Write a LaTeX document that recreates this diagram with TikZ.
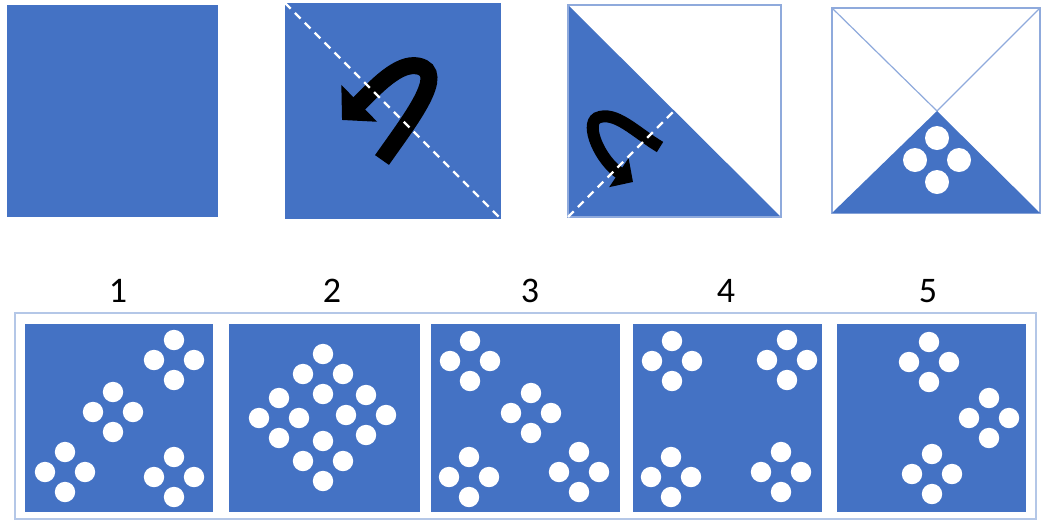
\documentclass[tikz,border=0pt]{standalone}
\usepackage{fontspec}
\setmainfont{Carlito}
\usepackage{tikz}
\usetikzlibrary{arrows.meta,calc}
\usepackage{xcolor}
\definecolor{boxblue}{HTML}{4472C4}
\definecolor{edgeblue}{HTML}{8FAADC}
\definecolor{framegray}{HTML}{B4C7E7}

% four white holes round a centre: [radius]{x}{y}{spread}
\newcommand\fourdots[4][5.1pt]{%
  \foreach \dx/\dy in {0/-1,-1/0,1/0,0/1}
    \fill[white] ({#2+#4*\dx},{#3+#4*\dy}) circle[radius=#1];}

\begin{document}
\begin{tikzpicture}[
  x=0.5pt, y=-0.5pt,
  optbox/.style = {fill=boxblue},
  thinedge/.style = {draw=edgeblue, line width=0.6pt},
  folddash/.style = {white, line width=1.2pt, dash pattern=on 4pt off 3pt},
  numlabel/.style = {font=\fontsize{18}{20}\selectfont, inner sep=0pt},
  turnarrow/.style = {black}
]
  \useasboundingbox (0,0) rectangle (1042,521);

  % top row: folding steps
  \fill[optbox] (7,5) rectangle (218,217);
  \fill[optbox] (285,3) rectangle (501,219);
  \draw[turnarrow, line width=8.5pt, -{Triangle[length=12pt,width=25pt]}]
    (382,160) .. controls (410,120) and (448,72) .. (418,66)
              .. controls (398,62) and (375,88) .. (342,120);
  \draw[folddash] (285,3) -- (501,219);

  \fill[optbox] (568,5) -- (568,217) -- (781,217) -- cycle;
  \draw[thinedge] (568,5) rectangle (781,217);
  \draw[turnarrow, line width=6pt, -{Triangle[length=8.5pt,width=17pt]}]
    (660,147) .. controls (635,132) and (615,110) .. (597,118)
              .. controls (585,125) and (600,160) .. (633,182);
  \draw[folddash] (568,217) -- (674,111);

  \draw[thinedge] (832,8) rectangle (1040,213);
  \coordinate (apex) at (937,111);
  \draw[thinedge] (832,8) -- (apex) -- (1040,8);
  \fill[optbox] (832,213) -- (apex) -- (1040,213) -- cycle;
  \fourdots[6pt]{937}{160}{22}

  % bottom row: answer options
  \foreach \n/\x in {1/118,2/332,3/530,4/726,5/928}
    \node[numlabel] (lab\n) at (\x,291) {\n};
  \draw[framegray, line width=0.8pt] (15,313) rectangle (1036,519);
  \foreach \xa/\xb in {25/213,229/420,431/620,633/822,837/1026}
    \fill[optbox] (\xa,324) rectangle (\xb,512);

  \foreach \cx/\cy in {174/360,113/412,65/472,174/477,
                       323/374,279/418,366/415,323/461,
                       470/361,531/413,469/477,579/472,
                       672/361,787/360,671/477,781/472,
                       929/362,989/418,932/474}
    {\fourdots{\cx}{\cy}{20}}
\end{tikzpicture}
\end{document}
